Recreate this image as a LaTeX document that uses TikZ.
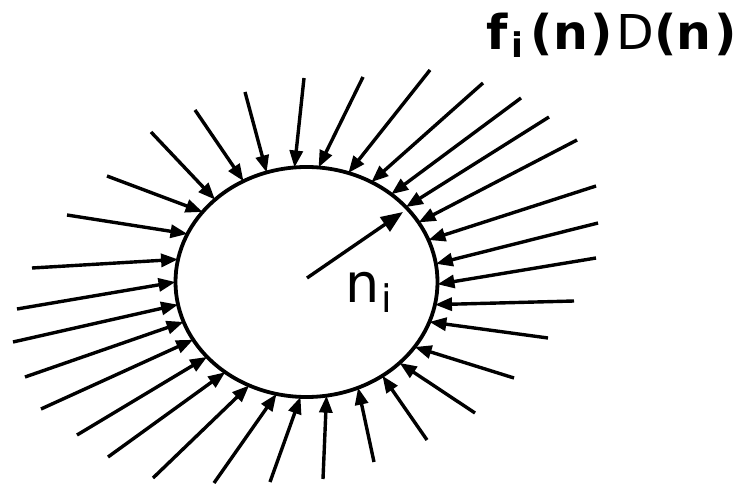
\documentclass[tikz,border=0pt]{standalone}
\usepackage{fontspec}
\setmainfont{DejaVu Sans}
\usetikzlibrary{arrows.meta,shapes.geometric}
\begin{document}
\begin{tikzpicture}[x=1pt,y=-1pt,
  inarrow/.style={line width=3.4pt,-{Triangle[length=17pt,width=13pt]}},
  radarrow/.style={line width=3.4pt,-{Triangle[length=22pt,width=17pt]}},
  rim/.style={ellipse,draw,line width=3.8pt,minimum width=262pt,minimum height=230pt,inner sep=0pt,outer sep=0pt},
  lbl/.style={anchor=base west,inner sep=0pt,outer sep=0pt}]
\useasboundingbox (0,0) rectangle (741,486);
\node[rim] (c) at (306.5,282) {};
\foreach \k/\ox/\oy/\ang in {1/304/78/96.6, 2/245/92/110.0, 3/195/110/122.3, 4/151/132/138.0,
  5/107/176/146.7, 6/67/215/158.8, 7/32/268/170.5, 8/17/309/180.0, 9/13/342/190.9,
  10/25/377/198.2, 11/41/409/207.0, 12/77/435/217.7, 13/108/457/228.7, 14/153/478/241.6,
  15/214/483/255.0, 16/270/482/267.8, 17/323/479/280.7, 18/374/462/296.3, 19/427/440/309.0,
  20/475/413/319.2, 21/514/378/329.8, 22/548/338/342.0, 23/574/301/350.2, 24/596/258/359.6,
  25/598/223/8.5, 26/596/186/19.6, 27/577/140/28.3, 28/549/117/37.1, 29/521/98/46.1,
  30/483/83/57.9, 31/430/70/69.0, 32/363/77/84.3}{
  \coordinate (o\k) at (\ox,\oy);
  \draw[inarrow] (o\k) -- (c.\ang);
}
\coordinate (r0) at (307,278);
\coordinate (r1) at (403,212);
\draw[radarrow] (r0) -- (r1);
\node[lbl] (ni) at (345,302) {\fontsize{54}{60}\selectfont n\kern2pt\raisebox{-10pt}{\fontsize{38}{40}\selectfont i}};
\node[lbl,xscale=1.02] (fd) at (486,50) {\fontsize{48}{54}\selectfont\textbf{f}\kern4pt\raisebox{-8pt}{\fontsize{34}{36}\selectfont\textbf{i}}\kern7pt\textbf{(n\kern2pt)}\kern4pt D\textbf{(n\kern3pt)}};
\end{tikzpicture}
\end{document}
